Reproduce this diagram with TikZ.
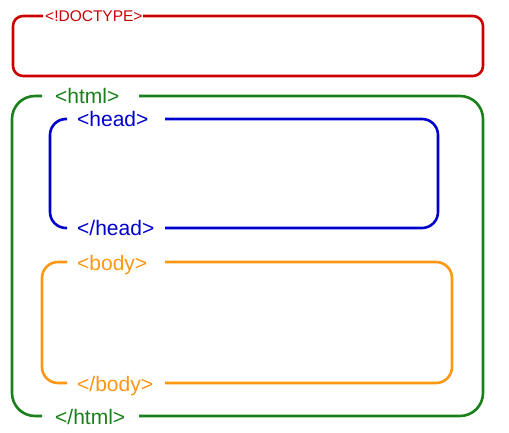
\documentclass[tikz,border=0pt]{standalone}
\usepackage{fontspec}
\setmainfont{Liberation Sans}
\definecolor{cred}{RGB}{204,0,0}
\definecolor{cgreen}{RGB}{26,128,26}
\definecolor{cblue}{RGB}{0,0,204}
\definecolor{corange}{RGB}{255,150,20}
\begin{document}
\begin{tikzpicture}[x=1pt,y=-1pt,
  tag/.style={anchor=base west, inner sep=0pt, font=\fontsize{21}{21}\selectfont, yshift=-8pt},
  smalltag/.style={anchor=base west, inner sep=0pt, font=\fontsize{15.5}{15.5}\selectfont, yshift=-6pt},
  frame/.style={line width=2.6pt}]
\useasboundingbox (0,0) rectangle (509,433);
% DOCTYPE
\node[smalltag, text=cred] (doc) at (45,16) {<!DOCTYPE>};
\coordinate (docL) at (43,16);
\coordinate (docR) at (143,16);
\draw[frame, cred, rounded corners=10pt] (docL) -- (13,16) -- (13,76) -- (483,76) -- (483,16) -- (docR);
% html
\node[tag, text=cgreen] (htmlO) at (55,96) {<html>};
\node[tag, text=cgreen] (htmlC) at (55,416) {</html>};
\coordinate (hL1) at (42,96); \coordinate (hR1) at (139,96);
\coordinate (hL2) at (42,416); \coordinate (hR2) at (139,416);
\draw[frame, cgreen, rounded corners=23pt] (hL1) -- (12,96) -- (12,416) -- (hL2);
\draw[frame, cgreen, rounded corners=23pt] (hR1) -- (483,96) -- (483,416) -- (hR2);
% head
\node[tag, text=cblue] (headO) at (77,119) {<head>};
\node[tag, text=cblue] (headC) at (77,228) {</head>};
\coordinate (eL1) at (67,119); \coordinate (eR1) at (165,119);
\coordinate (eL2) at (67,228); \coordinate (eR2) at (165,228);
\draw[frame, cblue, rounded corners=16pt] (eL1) -- (50,119) -- (50,228) -- (eL2);
\draw[frame, cblue, rounded corners=16pt] (eR1) -- (438,119) -- (438,228) -- (eR2);
% body
\node[tag, text=corange] (bodyO) at (77,262) {<body>};
\node[tag, text=corange] (bodyC) at (77,383) {</body>};
\coordinate (bL1) at (67,262); \coordinate (bR1) at (165,262);
\coordinate (bL2) at (67,383); \coordinate (bR2) at (165,383);
\draw[frame, corange, rounded corners=16pt] (bL1) -- (42,262) -- (42,383) -- (bL2);
\draw[frame, corange, rounded corners=16pt] (bR1) -- (452,262) -- (452,383) -- (bR2);
\end{tikzpicture}
\end{document}
